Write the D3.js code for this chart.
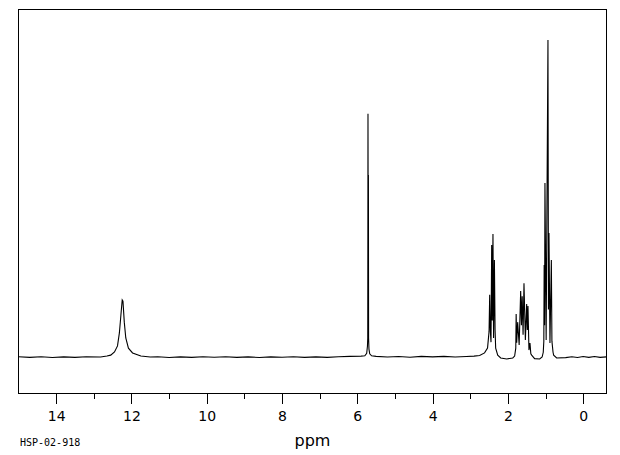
<!DOCTYPE html>
<html>
<head>
<meta charset="utf-8">
<script src="https://cdn.jsdelivr.net/npm/d3@7"></script>
<style>
	body { margin: 0; background: #fff; }
	#chart text { fill: #000; }
</style>
</head>
<body>
<div id="chart"></div>
<script>
// tracciato dello spettro: [ppm, intensita'] (picco piu' alto = 100)
var baselineLeft = [[15.0, 0.1], [14.7, -0.1], [14.4, 0.1], [14.1, -0.15], [13.8, 0.05], [13.5, -0.1], [13.2, 0.1], [12.85, 0]];
var acidPeak = [[12.82, 0], [12.65, 0.3], [12.55, 0.6], [12.45, 1.6], [12.37, 3.5], [12.32, 7.6], [12.28, 13.2],
	[12.245, 18.0], [12.225, 17.6], [12.19, 11], [12.15, 6], [12.08, 2.8], [11.97, 1.3], [11.75, 0.3], [11.5, 0]];
var baselineMid = [[11.3, 0.1], [11.0, -0.15], [10.7, 0.05], [10.4, -0.1], [10.1, 0.1], [9.8, -0.05], [9.5, 0.1],
	[9.2, -0.1], [8.9, 0.05], [8.6, -0.15], [8.3, 0.05], [8.0, -0.05], [7.7, 0.1], [7.4, -0.1], [7.1, 0.05],
	[6.8, -0.1], [6.5, 0.1], [6.2, 0.2], [5.9, 0.3]];
var vinylPeak = [[5.80, 0.4], [5.75, 1.2], [5.73, 3.5], [5.722, 6], [5.716, 76.7], [5.710, 30], [5.705, 57.4],
	[5.700, 6], [5.69, 2.5], [5.67, 1.0], [5.62, 0.4]];
var baselineCenter = [[5.5, 0.2], [5.2, 0.0], [4.9, 0.15], [4.6, -0.05], [4.3, 0.2], [4.0, 0.05], [3.7, 0.2],
	[3.4, 0.0], [3.1, 0.15], [2.9, 0.3], [2.75, 0.5]];
var ch2Triplet = [[2.62, 1.3], [2.54, 2.8], [2.50, 8], [2.483, 19.6], [2.467, 8.5], [2.448, 4.7], [2.430, 35.3],
	[2.414, 11.5], [2.396, 38.8], [2.380, 6], [2.358, 30.6], [2.34, 8.5], [2.324, 2.8], [2.27, 0.6],
	[2.19, -0.3], [2.03, -0.6], [1.87, -0.3]];
var ch2Multiplet = [[1.82, 0.3], [1.79, 2.8], [1.780, 13.6], [1.765, 4.5], [1.740, 11.0], [1.70, 3.8], [1.660, 20.8],
	[1.640, 10], [1.620, 19.2], [1.596, 7], [1.572, 23.3], [1.535, 5.4], [1.501, 16.7], [1.483, 8.5],
	[1.466, 16.1], [1.44, 2.2], [1.413, 4.4], [1.39, 1.0], [1.368, 0.6], [1.29, -0.5], [1.155, -0.6], [1.09, 0]];
var ch3Triplet = [[1.06, 1.5], [1.045, 5], [1.036, 29], [1.025, 10], [1.015, 54.9], [0.983, 5.4], [0.935, 100],
	[0.922, 15], [0.908, 39.1], [0.882, 4.4], [0.845, 30.6], [0.830, 5], [0.80, 1.5], [0.784, 0.6],
	[0.704, -0.3], [0.465, -0.2]];
var baselineRight = [[0.3, 0.1], [0.15, -0.15], [0.0, 0.15], [-0.15, -0.1], [-0.3, 0.15], [-0.45, -0.1], [-0.62, 0.05]];

// tick dell'asse
var majorTicks = [14, 12, 10, 8, 6, 4, 2, 0];
var minorTicks = [13, 11, 9, 7, 5, 3, 1];
var xLabel = "ppm";
var sampleCode = "HSP-02-918";

var width = 620;
var height = 455;
// margini della cornice (niente "top": e' riservato da window)
var plotLeft = 18.5, plotRight = 606.5, plotTop = 9.5, plotBottom = 393.5;

var trace = [].concat(baselineLeft, acidPeak, baselineMid, vinylPeak, baselineCenter,
	ch2Triplet, ch2Multiplet, ch3Triplet, baselineRight);

var svg = d3.select("#chart").append("svg")
	.attr("width", width)
	.attr("height", height);

// asse x invertito come negli spettri NMR
var x = d3.scaleLinear()
	.domain([15.0, -0.62])
	.range([plotLeft, plotRight]);

var y = d3.scaleLinear()
	.domain([-11.5, 109.6])
	.range([plotBottom, plotTop]);

var line = d3.line()
	.x(function(d) { return x(d[0]); })
	.y(function(d) { return y(d[1]); });

svg.append("path")
	.datum(trace)
	.attr("d", line)
	.attr("fill", "none")
	.attr("stroke", "#000")
	.attr("stroke-width", 1.1)
	.attr("stroke-linejoin", "miter");

// cornice
svg.append("rect")
	.attr("x", plotLeft)
	.attr("y", plotTop)
	.attr("width", plotRight - plotLeft)
	.attr("height", plotBottom - plotTop)
	.attr("fill", "none")
	.attr("stroke", "#000")
	.attr("stroke-width", 1)
	.style("shape-rendering", "crispEdges");

var minorAxis = svg.append("g")
	.attr("transform", "translate(0," + plotBottom + ")")
	.call(d3.axisBottom(x).tickValues(minorTicks).tickSize(5).tickFormat(""));

var majorAxis = svg.append("g")
	.attr("transform", "translate(0," + plotBottom + ")")
	.call(d3.axisBottom(x).tickValues(majorTicks).tickSize(10).tickFormat(d3.format("d")));

svg.selectAll(".domain").remove();
svg.selectAll(".tick line")
	.attr("stroke", "#000")
	.style("shape-rendering", "crispEdges");

majorAxis.selectAll(".tick text")
	.attr("y", 18)
	.attr("dy", "0.71em")
	.style("font-family", "'DejaVu Sans', sans-serif")
	.style("font-size", "14px");

svg.append("text")
	.attr("x", (plotLeft + plotRight) / 2)
	.attr("y", 446)
	.attr("text-anchor", "middle")
	.style("font-family", "'DejaVu Sans', sans-serif")
	.style("font-size", "16px")
	.text(xLabel);

svg.append("text")
	.attr("x", 20)
	.attr("y", 446)
	.style("font-family", "'DejaVu Sans Mono', monospace")
	.style("font-size", "10px")
	.text(sampleCode);
</script>
</body>
</html>
